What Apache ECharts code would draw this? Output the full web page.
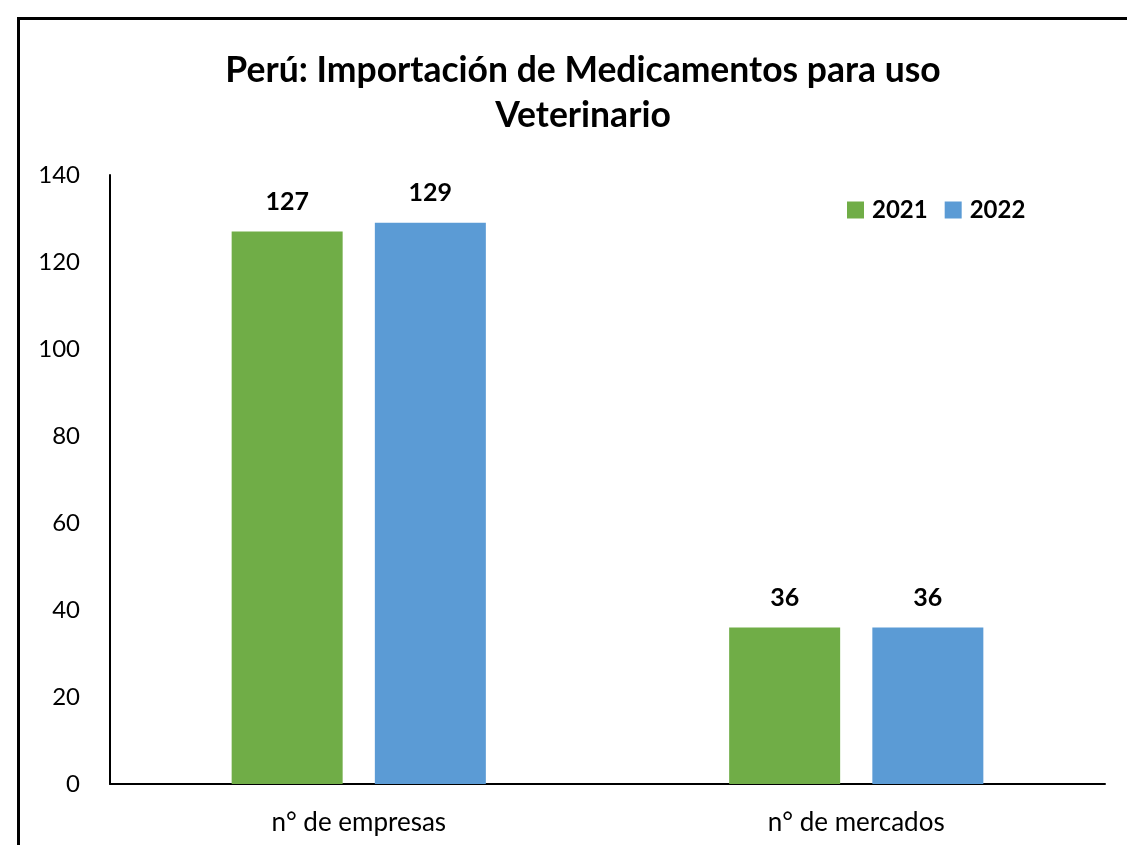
<!DOCTYPE html>
<html>
<head>
<meta charset="utf-8">
<script src="https://cdn.jsdelivr.net/npm/echarts@6/dist/echarts.min.js"></script>
<style>
  html, body { margin: 0; padding: 0; background: #fff; }
  #main { width: 1127px; height: 845px; }
</style>
</head>
<body>
<div id="main"></div>
<script>
const categories = ["n° de empresas", "n° de mercados"];
const years = ["2021", "2022"];
const values2021 = [127, 36];
const values2022 = [129, 36];
const yTicks = { min: 0, max: 140, interval: 20 };

const font = "Lato, 'Open Sans', sans-serif";

let option = {
  animation: false,
  textStyle: { fontFamily: font },
  title: {
    text: "Perú: Importación de Medicamentos para uso\nVeterinario",
    left: 578,
    textAlign: "center",
    top: 43,
    textStyle: {
      fontFamily: font,
      fontWeight: "bold",
      fontSize: 35.5,
      lineHeight: 45,
      color: "#000",
    },
  },
  legend: {
    data: years,
    left: 842,
    top: 193,
    itemWidth: 17,
    itemHeight: 17,
    itemGap: 17,
    icon: "rect",
    textStyle: { fontFamily: font, fontWeight: "bold", fontSize: 24, color: "#000", padding: [0, 0, 0, 3] },
  },
  grid: {
    left: 110,
    right: 22,
    top: 175,
    bottom: 61,
    containLabel: false,
  },
  xAxis: {
    type: "category",
    data: categories,
    axisLine: { lineStyle: { color: "#000", width: 2 } },
    axisTick: { show: false },
    axisLabel: { fontFamily: font, fontSize: 26, color: "#000", margin: 26 },
  },
  yAxis: {
    type: "value",
    min: yTicks.min,
    max: yTicks.max,
    interval: yTicks.interval,
    axisLine: { show: true, lineStyle: { color: "#000", width: 2 } },
    axisTick: { show: false },
    splitLine: { show: false },
    axisLabel: { fontFamily: font, fontSize: 24, color: "#000", margin: 30 },
  },
  series: [
    {
      name: "2021",
      type: "bar",
      data: values2021,
      barWidth: 111,
      barGap: "29%",
      itemStyle: { color: "#70AD47" },
      label: {
        show: true,
        position: "top",
        distance: 17,
        fontFamily: font,
        fontWeight: "bold",
        fontSize: 25,
        color: "#000",
      },
    },
    {
      name: "2022",
      type: "bar",
      data: values2022,
      barWidth: 111,
      itemStyle: { color: "#5B9BD5" },
      label: {
        show: true,
        position: "top",
        distance: 17,
        fontFamily: font,
        fontWeight: "bold",
        fontSize: 25,
        color: "#000",
      },
    },
  ],
  graphic: [
    {
      type: "rect",
      shape: { x: 18.5, y: 18.5, width: 1200, height: 1000 },
      style: { fill: "none", stroke: "#000", lineWidth: 3 },
      silent: true,
    },
  ],
};

var myChart = echarts.init(document.getElementById("main"));
myChart.setOption(option);
</script>
</body>
</html>
